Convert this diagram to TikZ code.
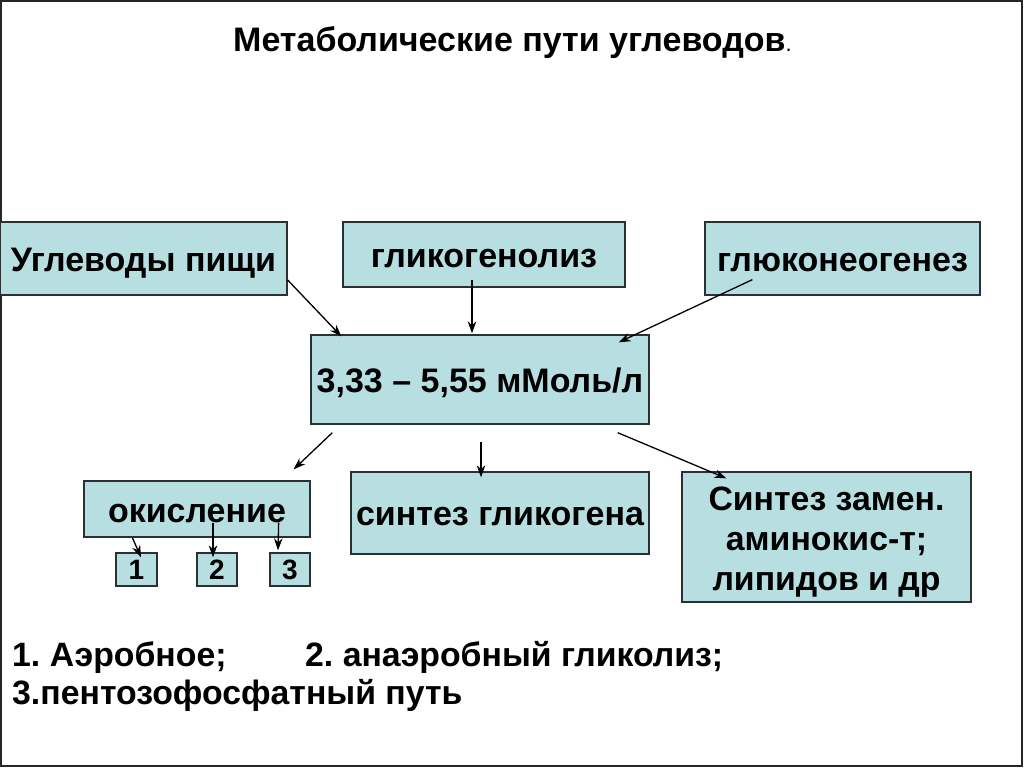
\documentclass[tikz,border=0pt]{standalone}
\usepackage{fontspec}
\setmainfont{Liberation Sans}
\usetikzlibrary{arrows.meta}
\definecolor{boxfill}{RGB}{183,222,225}
\definecolor{boxline}{RGB}{40,50,50}
\tikzset{
  box/.style={draw=boxline, fill=boxfill, line width=1.3pt, inner sep=0pt, align=center,
    text height=32pt, text depth=7pt,
    font=\bfseries\fontsize{34}{40}\selectfont},
  smallbox/.style={draw=boxline, fill=boxfill, line width=1.3pt, inner sep=0pt,
    font=\bfseries\fontsize{28}{30}\selectfont},
  arr/.style={line width=1.3pt, -{Stealth[length=12pt,width=8.5pt]}},
  plain/.style={inner sep=0pt, anchor=base west, font=\bfseries\fontsize{33.8}{38}\selectfont}
}
\frenchspacing
\begin{document}
\frenchspacing
\begin{tikzpicture}[x=1pt,y=-1pt]
\useasboundingbox (0,0) rectangle (1024,768);
\fill[white] (0,0) rectangle (1024,768);
\draw[line width=1.5pt, black!85] (1,1) rectangle (1022,766);

\node[inner sep=0pt, anchor=base west, font=\bfseries\fontsize{34}{38}\selectfont] (title) at (233,52)
  {Метаболические пути углеводов\textmd{\fontsize{22}{26}\selectfont.}};

\node[box, minimum width=287, minimum height=73] (ug) at (143.5,258.5) {Углеводы пищи};
\node[box, minimum width=282, minimum height=65] (gl) at (484,254.5) {гликогенолиз};
\node[box, minimum width=275, minimum height=73] (gn) at (842.5,258.5) {глюконеогенез};
\node[box, minimum width=338, minimum height=89] (c) at (480,379.5) {3,33 – 5,55 мМоль/л};
\node[box, minimum width=226, minimum height=56, text height=33pt] (ok) at (197,509) {окисление};
\node[box, minimum width=298, minimum height=82] (sg) at (500,513) {синтез гликогена};
\node[draw=boxline, fill=boxfill, line width=1.3pt, inner sep=0pt, align=center,
  minimum width=289, minimum height=130, font=\bfseries\fontsize{33.8}{40}\selectfont] (sy) at (826.5,537)
  {\rule{0pt}{33pt}Синтез замен.\\аминокис-т;\\липидов и др};
\node[smallbox, minimum width=41, minimum height=33] (b1) at (136.5,569.5) {1};
\node[smallbox, minimum width=40, minimum height=33] (b2) at (217,569.5) {2};
\node[smallbox, minimum width=40, minimum height=33] (b3) at (290,569.5) {3};

\draw[arr] ([yshift=-21.5pt]ug.east) -- ([xshift=31pt,yshift=-2pt]c.north west);
\draw[arr] ([xshift=-12pt,yshift=8pt]gl.south) -- ([xshift=-8pt,yshift=1pt]c.north);
\draw[arr] ([xshift=48pt,yshift=16pt]gn.south west) -- ([xshift=-31pt,yshift=-8pt]c.north east);
\draw[arr] ([xshift=22pt,yshift=-8pt]c.south west) -- ([xshift=-17pt,yshift=11pt]ok.north east);
\draw[arr] ([xshift=1pt,yshift=-17pt]c.south) -- ([xshift=-19pt,yshift=-6pt]sg.north);
\draw[arr] ([xshift=-32pt,yshift=-8pt]c.south east) -- ([xshift=45pt,yshift=-7pt]sy.north west);
\draw[arr] ([xshift=49pt]ok.south west) -- ([xshift=4.5pt,yshift=-5pt]b1.north);
\draw[arr] ([xshift=16pt,yshift=15pt]ok.south) -- ([xshift=-4pt,yshift=-5pt]b2.north);
\draw[arr] ([xshift=-32pt,yshift=15pt]ok.south east) -- ([xshift=-12pt,yshift=2pt]b3.north);

\node[plain] (l1) at (12,666) {1. Аэробное;};
\node[plain] (l2) at (305,666) {2. анаэробный гликолиз;};
\node[plain] (l3) at (12,704) {3.пентозофосфатный путь};
\end{tikzpicture}
\end{document}
